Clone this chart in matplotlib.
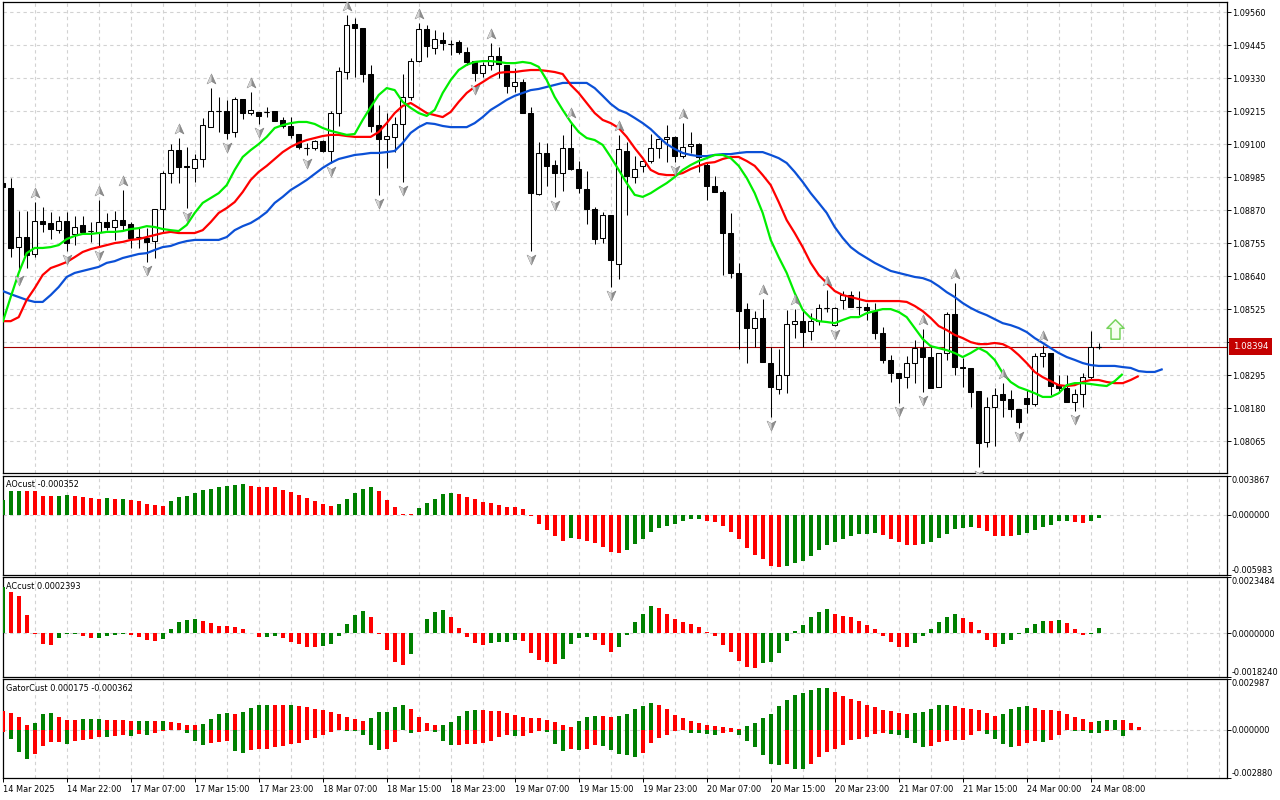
import matplotlib
matplotlib.use("Agg")
import matplotlib.pyplot as plt
import matplotlib.transforms as mtransforms
from matplotlib.path import Path
import numpy as np

plt.rcParams['font.family'] = ['DejaVu Sans']
FS = 5.9

# ---------------- data (EURUSD-like H1) ----------------
opens = [1.08964, 1.08947, 1.08741, 1.08776, 1.08717, 1.08832, 1.08825, 1.08800, 1.08832, 1.08787,
         1.08818, 1.08797, 1.08794, 1.08828, 1.08811, 1.08835, 1.08821, 1.08776, 1.08773, 1.08762,
         1.08874, 1.08999, 1.09079, 1.09024, 1.09017, 1.09048, 1.09159, 1.09215, 1.09215, 1.09142,
         1.09257, 1.09208, 1.09212, 1.09212, 1.09215, 1.09184, 1.09163, 1.09135, 1.09086, 1.09086,
         1.09111, 1.09076, 1.09208, 1.09351, 1.09518, 1.09504, 1.09344, 1.09166, 1.09118, 1.09125,
         1.09170, 1.09264, 1.09389, 1.09501, 1.09435, 1.09463, 1.09449, 1.09456, 1.09421, 1.09389,
         1.09348, 1.09376, 1.09407, 1.09376, 1.09302, 1.09316, 1.09208, 1.08926, 1.09069, 1.09027,
         1.08999, 1.09086, 1.09013, 1.08943, 1.08874, 1.08773, 1.08853, 1.08682, 1.09076, 1.08985,
         1.09024, 1.09041, 1.09086, 1.09118, 1.09125, 1.09058, 1.09093, 1.09100, 1.09027, 1.08954,
         1.08933, 1.08790, 1.08651, 1.08525, 1.08459, 1.08494, 1.08337, 1.08246, 1.08295, 1.08473,
         1.08483, 1.08449, 1.08483, 1.08529, 1.08470, 1.08557, 1.08574, 1.08532, 1.08532, 1.08518,
         1.08442, 1.08348, 1.08302, 1.08288, 1.08337, 1.08389, 1.08358, 1.08253, 1.08372, 1.08508,
         1.08323, 1.08320, 1.08239, 1.08062, 1.08184, 1.08229, 1.08212, 1.08177, 1.08215, 1.08194,
         1.08361, 1.08372, 1.08260, 1.08250, 1.08201, 1.08229, 1.08288, 1.08394]
highs = [1.08971, 1.08982, 1.08867, 1.08867, 1.08898, 1.08881, 1.08863, 1.08849, 1.08863, 1.08849,
         1.08849, 1.08828, 1.08905, 1.08860, 1.08867, 1.08940, 1.08828, 1.08811, 1.08807, 1.08870,
         1.09006, 1.09100, 1.09121, 1.09090, 1.09065, 1.09191, 1.09295, 1.09264, 1.09254, 1.09264,
         1.09257, 1.09281, 1.09212, 1.09229, 1.09215, 1.09194, 1.09194, 1.09135, 1.09104, 1.09114,
         1.09114, 1.09215, 1.09369, 1.09550, 1.09539, 1.09504, 1.09376, 1.09236, 1.09208, 1.09194,
         1.09344, 1.09400, 1.09522, 1.09515, 1.09498, 1.09491, 1.09463, 1.09463, 1.09438, 1.09389,
         1.09386, 1.09452, 1.09438, 1.09376, 1.09365, 1.09327, 1.09229, 1.09107, 1.09104, 1.09044,
         1.09132, 1.09177, 1.09041, 1.09006, 1.08881, 1.08863, 1.08853, 1.09132, 1.09107, 1.09058,
         1.09051, 1.09135, 1.09128, 1.09166, 1.09128, 1.09173, 1.09142, 1.09104, 1.09034, 1.08989,
         1.08940, 1.08860, 1.08686, 1.08546, 1.08518, 1.08560, 1.08393, 1.08386, 1.08522, 1.08525,
         1.08525, 1.08511, 1.08543, 1.08591, 1.08532, 1.08588, 1.08588, 1.08588, 1.08546, 1.08546,
         1.08463, 1.08365, 1.08302, 1.08361, 1.08417, 1.08456, 1.08393, 1.08372, 1.08515, 1.08616,
         1.08354, 1.08320, 1.08239, 1.08219, 1.08250, 1.08267, 1.08243, 1.08177, 1.08243, 1.08372,
         1.08400, 1.08372, 1.08295, 1.08295, 1.08246, 1.08302, 1.08449, 1.08407]
lows = [1.08947, 1.08706, 1.08654, 1.08668, 1.08706, 1.08794, 1.08769, 1.08790, 1.08727, 1.08748,
        1.08790, 1.08759, 1.08741, 1.08800, 1.08766, 1.08800, 1.08738, 1.08738, 1.08689, 1.08703,
        1.08790, 1.08964, 1.08964, 1.08877, 1.08968, 1.09020, 1.09159, 1.09142, 1.09118, 1.09125,
        1.09187, 1.09201, 1.09170, 1.09194, 1.09180, 1.09156, 1.09121, 1.09083, 1.09062, 1.09079,
        1.09072, 1.09034, 1.09163, 1.09327, 1.09334, 1.09316, 1.09142, 1.08923, 1.09017, 1.09072,
        1.08968, 1.09254, 1.09386, 1.09403, 1.09414, 1.09428, 1.09410, 1.09414, 1.09376, 1.09320,
        1.09334, 1.09358, 1.09330, 1.09278, 1.09281, 1.09208, 1.08727, 1.08923, 1.08954, 1.08916,
        1.08936, 1.09010, 1.08929, 1.08821, 1.08752, 1.08755, 1.08602, 1.08630, 1.08853, 1.08964,
        1.09003, 1.09034, 1.09051, 1.09037, 1.09037, 1.09051, 1.09069, 1.09003, 1.08905, 1.08933,
        1.08644, 1.08633, 1.08386, 1.08337, 1.08393, 1.08341, 1.08149, 1.08229, 1.08232, 1.08424,
        1.08393, 1.08417, 1.08470, 1.08515, 1.08466, 1.08525, 1.08532, 1.08504, 1.08487, 1.08421,
        1.08337, 1.08271, 1.08198, 1.08250, 1.08267, 1.08236, 1.08250, 1.08253, 1.08348, 1.08295,
        1.08253, 1.08184, 1.07975, 1.08044, 1.08048, 1.08149, 1.08149, 1.08111, 1.08163, 1.08187,
        1.08323, 1.08226, 1.08232, 1.08201, 1.08170, 1.08184, 1.08278, 1.08386]
closes = [1.08950, 1.08738, 1.08776, 1.08713, 1.08832, 1.08821, 1.08804, 1.08832, 1.08755, 1.08811,
          1.08794, 1.08796, 1.08828, 1.08811, 1.08835, 1.08818, 1.08773, 1.08775, 1.08759, 1.08874,
          1.08999, 1.09079, 1.09020, 1.09020, 1.09048, 1.09166, 1.09215, 1.09214, 1.09139, 1.09257,
          1.09208, 1.09219, 1.09198, 1.09211, 1.09180, 1.09163, 1.09132, 1.09090, 1.09085, 1.09111,
          1.09076, 1.09208, 1.09355, 1.09515, 1.09504, 1.09344, 1.09163, 1.09118, 1.09128, 1.09170,
          1.09264, 1.09389, 1.09501, 1.09442, 1.09466, 1.09452, 1.09448, 1.09421, 1.09386, 1.09348,
          1.09376, 1.09407, 1.09379, 1.09302, 1.09316, 1.09208, 1.08929, 1.09069, 1.09024, 1.08999,
          1.09086, 1.09013, 1.08947, 1.08874, 1.08769, 1.08853, 1.08696, 1.09083, 1.08989, 1.09013,
          1.09041, 1.09086, 1.09118, 1.09125, 1.09058, 1.09090, 1.09100, 1.09055, 1.08954, 1.08933,
          1.08790, 1.08651, 1.08518, 1.08459, 1.08494, 1.08341, 1.08253, 1.08295, 1.08473, 1.08483,
          1.08445, 1.08483, 1.08529, 1.08528, 1.08529, 1.08574, 1.08532, 1.08531, 1.08522, 1.08442,
          1.08348, 1.08302, 1.08285, 1.08337, 1.08389, 1.08358, 1.08250, 1.08372, 1.08508, 1.08323,
          1.08320, 1.08236, 1.08058, 1.08184, 1.08226, 1.08208, 1.08177, 1.08131, 1.08194, 1.08361,
          1.08372, 1.08257, 1.08250, 1.08201, 1.08229, 1.08288, 1.08394, 1.08394]

# Alligator lines (jaw shifted 8, teeth 5, lips 3 bars forward)
jaw = [1.08588, 1.08577, 1.08567, 1.08557, 1.08550, 1.08550, 1.08574, 1.08602, 1.08637, 1.08651,
       1.08658, 1.08665, 1.08672, 1.08686, 1.08692, 1.08703, 1.08710, 1.08717, 1.08720, 1.08731,
       1.08741, 1.08745, 1.08755, 1.08762, 1.08766, 1.08766, 1.08766, 1.08766, 1.08776, 1.08800,
       1.08814, 1.08825, 1.08842, 1.08863, 1.08895, 1.08916, 1.08940, 1.08957, 1.08975, 1.08996,
       1.09017, 1.09034, 1.09048, 1.09055, 1.09062, 1.09065, 1.09069, 1.09069, 1.09072, 1.09076,
       1.09104, 1.09139, 1.09159, 1.09173, 1.09170, 1.09163, 1.09159, 1.09159, 1.09159, 1.09173,
       1.09194, 1.09219, 1.09236, 1.09254, 1.09268, 1.09278, 1.09288, 1.09292, 1.09299, 1.09306,
       1.09313, 1.09313, 1.09313, 1.09313, 1.09295, 1.09268, 1.09240, 1.09219, 1.09208, 1.09191,
       1.09173, 1.09152, 1.09125, 1.09100, 1.09083, 1.09069, 1.09062, 1.09058, 1.09058, 1.09062,
       1.09065, 1.09065, 1.09069, 1.09072, 1.09072, 1.09072, 1.09062, 1.09051, 1.09034, 1.09003,
       1.08968, 1.08929, 1.08895, 1.08860, 1.08811, 1.08773, 1.08741, 1.08720, 1.08703, 1.08686,
       1.08672, 1.08658, 1.08651, 1.08644, 1.08637, 1.08633, 1.08623, 1.08605, 1.08584, 1.08567,
       1.08546, 1.08529, 1.08515, 1.08504, 1.08490, 1.08476, 1.08469, 1.08459, 1.08445, 1.08424,
       1.08407, 1.08389, 1.08372, 1.08358, 1.08348, 1.08337, 1.08330, 1.08327, 1.08327, 1.08327,
       1.08323, 1.08320, 1.08309, 1.08306, 1.08306, 1.08316]
teeth = [1.08483, 1.08483, 1.08497, 1.08557, 1.08598, 1.08644, 1.08668, 1.08678, 1.08689, 1.08706,
         1.08724, 1.08734, 1.08741, 1.08748, 1.08755, 1.08759, 1.08766, 1.08769, 1.08776, 1.08783,
         1.08790, 1.08794, 1.08790, 1.08790, 1.08790, 1.08800, 1.08828, 1.08860, 1.08877, 1.08898,
         1.08933, 1.08975, 1.09003, 1.09024, 1.09048, 1.09072, 1.09090, 1.09104, 1.09114, 1.09121,
         1.09128, 1.09132, 1.09132, 1.09128, 1.09125, 1.09125, 1.09125, 1.09142, 1.09173, 1.09208,
         1.09233, 1.09243, 1.09226, 1.09208, 1.09201, 1.09194, 1.09212, 1.09247, 1.09278, 1.09299,
         1.09316, 1.09334, 1.09348, 1.09351, 1.09351, 1.09355, 1.09358, 1.09358, 1.09355, 1.09351,
         1.09344, 1.09306, 1.09278, 1.09243, 1.09208, 1.09184, 1.09173, 1.09156, 1.09125, 1.09086,
         1.09051, 1.09010, 1.08996, 1.08992, 1.08992, 1.08999, 1.09013, 1.09024, 1.09034, 1.09037,
         1.09048, 1.09055, 1.09055, 1.09041, 1.09024, 1.08992, 1.08957, 1.08898, 1.08835, 1.08790,
         1.08741, 1.08686, 1.08644, 1.08616, 1.08588, 1.08574, 1.08567, 1.08560, 1.08553, 1.08553,
         1.08553, 1.08553, 1.08553, 1.08550, 1.08536, 1.08518, 1.08494, 1.08466, 1.08452, 1.08435,
         1.08424, 1.08410, 1.08403, 1.08403, 1.08407, 1.08403, 1.08389, 1.08365, 1.08337, 1.08306,
         1.08288, 1.08274, 1.08260, 1.08257, 1.08260, 1.08271, 1.08278, 1.08278, 1.08271, 1.08267,
         1.08267, 1.08278, 1.08292]
lips = [1.08480, 1.08567, 1.08651, 1.08720, 1.08738, 1.08738, 1.08741, 1.08748, 1.08769, 1.08780,
        1.08787, 1.08787, 1.08790, 1.08794, 1.08794, 1.08797, 1.08804, 1.08807, 1.08814, 1.08811,
        1.08804, 1.08800, 1.08797, 1.08818, 1.08860, 1.08895, 1.08912, 1.08929, 1.08957, 1.09010,
        1.09055, 1.09079, 1.09100, 1.09125, 1.09156, 1.09166, 1.09173, 1.09177, 1.09177, 1.09170,
        1.09156, 1.09146, 1.09139, 1.09132, 1.09135, 1.09184, 1.09229, 1.09271, 1.09295, 1.09288,
        1.09247, 1.09226, 1.09208, 1.09198, 1.09219, 1.09278, 1.09323, 1.09358, 1.09376, 1.09386,
        1.09389, 1.09389, 1.09386, 1.09382, 1.09382, 1.09386, 1.09382, 1.09369, 1.09323, 1.09264,
        1.09219, 1.09177, 1.09142, 1.09121, 1.09114, 1.09097, 1.09055, 1.09010, 1.08964, 1.08923,
        1.08916, 1.08929, 1.08947, 1.08964, 1.08985, 1.09010, 1.09027, 1.09041, 1.09051, 1.09062,
        1.09062, 1.09051, 1.09024, 1.08982, 1.08929, 1.08860, 1.08766, 1.08706, 1.08651, 1.08581,
        1.08522, 1.08494, 1.08483, 1.08480, 1.08476, 1.08487, 1.08497, 1.08497, 1.08511, 1.08518,
        1.08525, 1.08525, 1.08515, 1.08497, 1.08459, 1.08421, 1.08396, 1.08389, 1.08382, 1.08372,
        1.08358, 1.08372, 1.08389, 1.08375, 1.08348, 1.08302, 1.08271, 1.08253, 1.08243, 1.08232,
        1.08219, 1.08219, 1.08232, 1.08260, 1.08267, 1.08267, 1.08264, 1.08260, 1.08257, 1.08274,
        1.08299]

# Fractal bars
up_fractals = [4, 12, 15, 22, 26, 31, 43, 52, 61, 71, 77, 85, 95, 99, 103, 115, 119, 125, 130]
down_fractals = [2, 8, 12, 18, 23, 28, 32, 38, 41, 47, 50, 59, 66, 69, 76, 84, 96, 104, 112, 115,
                 122, 127, 134]
signal_bar = 139
signal_price = 1.08454

# Awesome oscillator
ao = [0.001495, 0.002326, 0.002393, 0.002393, 0.002326, 0.001894, 0.001828, 0.001894, 0.001994, 0.001894,
      0.001794, 0.001662, 0.001595, 0.001600, 0.001590, 0.001597, 0.001495, 0.001329, 0.001097, 0.000997,
      0.000897, 0.001329, 0.001728, 0.001894, 0.002160, 0.002492, 0.002592, 0.002725, 0.002891, 0.002991,
      0.003000, 0.002891, 0.002725, 0.002720, 0.002715, 0.002492, 0.002226, 0.001927, 0.001662, 0.001329,
      0.001097, 0.000897, 0.001097, 0.001595, 0.002127, 0.002592, 0.002725, 0.002326, 0.001495, 0.000798,
      0.000100, 0.000090, 0.000698, 0.001196, 0.001595, 0.002093, 0.002193, 0.002093, 0.001794, 0.001595,
      0.001296, 0.001196, 0.000997, 0.000798, 0.000790, 0.000598, -0.000100, -0.000897, -0.001495, -0.002093,
      -0.002592, -0.002293, -0.002393, -0.002592, -0.002791, -0.003190, -0.003689, -0.003788, -0.003489, -0.002891,
      -0.002393, -0.001695, -0.001296, -0.001097, -0.000897, -0.000665, -0.000465, -0.000399, -0.000598, -0.000698,
      -0.001097, -0.001695, -0.002459, -0.003290, -0.003988, -0.004386, -0.005084, -0.005184, -0.005084, -0.004818,
      -0.004586, -0.004087, -0.003489, -0.002991, -0.002758, -0.002393, -0.002127, -0.001894, -0.001890, -0.001794,
      -0.002027, -0.002393, -0.002692, -0.002991, -0.002995, -0.002891, -0.002692, -0.002293, -0.001894, -0.001462,
      -0.001296, -0.001196, -0.001296, -0.001595, -0.002093, -0.002100, -0.002105, -0.001994, -0.001794, -0.001495,
      -0.001196, -0.000997, -0.000665, -0.000598, -0.000698, -0.000798, -0.000665, -0.000352]

# Accelerator oscillator
ac = [0.001959, 0.001721, 0.001553, 0.000755, -0.000014, -0.000434, -0.000490, -0.000196, -0.000042, -0.000028,
      -0.000112, -0.000200, -0.000190, -0.000112, -0.000056, -0.000028, -0.000070, -0.000140, -0.000266, -0.000322,
      -0.000238, 0.000168, 0.000476, 0.000560, 0.000588, 0.000518, 0.000420, 0.000294, 0.000290, 0.000252,
      0.000168, -0.000010, -0.000154, -0.000150, -0.000112, -0.000196, -0.000364, -0.000448, -0.000574, -0.000578,
      -0.000532, -0.000448, -0.000112, 0.000378, 0.000755, 0.000923, 0.000672, -0.000028, -0.000700, -0.001203,
      -0.001329, -0.000867, 0.000014, 0.000588, 0.000881, 0.000965, 0.000672, 0.000210, -0.000154, -0.000406,
      -0.000490, -0.000406, -0.000364, -0.000360, -0.000280, -0.000322, -0.000825, -0.001119, -0.001203, -0.001287,
      -0.001077, -0.000448, -0.000196, -0.000154, -0.000280, -0.000490, -0.000783, -0.000574, -0.000070, 0.000462,
      0.000797, 0.001133, 0.001049, 0.000797, 0.000588, 0.000462, 0.000378, 0.000252, 0.000042, -0.000112,
      -0.000490, -0.000783, -0.001161, -0.001413, -0.001455, -0.001245, -0.001203, -0.000825, -0.000322, 0.000084,
      0.000336, 0.000672, 0.000881, 0.001007, 0.000797, 0.000713, 0.000672, 0.000504, 0.000336, 0.000168,
      -0.000112, -0.000364, -0.000574, -0.000578, -0.000406, -0.000112, 0.000168, 0.000462, 0.000672, 0.000797,
      0.000630, 0.000462, 0.000126, -0.000280, -0.000574, -0.000448, -0.000280, -0.000028, 0.000210, 0.000378,
      0.000504, 0.000500, 0.000546, 0.000420, 0.000168, -0.000070, -0.000014, 0.0002393]

# Gator oscillator (upper = |jaw-teeth|, lower = -|teeth-lips|)
gator_up = [0.001087, 0.001008, 0.000770, 0.000257, 0.000415, 0.000948, 0.001008, 0.000770, 0.000593, 0.000588,
            0.000652, 0.000656, 0.000660, 0.000593, 0.000590, 0.000587, 0.000533, 0.000536, 0.000540, 0.000535,
            0.000538, 0.000474, 0.000415, 0.000296, 0.000290, 0.000356, 0.000652, 0.000948, 0.001008, 0.000948,
            0.001067, 0.001304, 0.001482, 0.001486, 0.001484, 0.001482, 0.001486, 0.001422, 0.001363, 0.001245,
            0.001185, 0.001067, 0.000948, 0.000770, 0.000652, 0.000533, 0.000711, 0.001067, 0.001070, 0.001363,
            0.001482, 0.001245, 0.000770, 0.000415, 0.000296, 0.000300, 0.000474, 0.000830, 0.001126, 0.001185,
            0.001180, 0.001126, 0.001120, 0.001008, 0.000889, 0.000770, 0.000711, 0.000705, 0.000593, 0.000474,
            0.000296, 0.000178, 0.000533, 0.000770, 0.000830, 0.000825, 0.000770, 0.000830, 0.000948, 0.001245,
            0.001422, 0.001600, 0.001482, 0.001245, 0.000889, 0.000711, 0.000533, 0.000415, 0.000296, 0.000237,
            0.000178, 0.000119, 0.000020, 0.000237, 0.000415, 0.000711, 0.000948, 0.001422, 0.001778, 0.002074,
            0.002193, 0.002371, 0.002489, 0.002500, 0.002252, 0.002015, 0.001837, 0.001719, 0.001482, 0.001363,
            0.001185, 0.001126, 0.001008, 0.000948, 0.001008, 0.001067, 0.001245, 0.001482, 0.001486, 0.001422,
            0.001304, 0.001245, 0.001185, 0.001008, 0.000830, 0.000948, 0.001245, 0.001363, 0.001422, 0.001304,
            0.001185, 0.001180, 0.001126, 0.000948, 0.000770, 0.000652, 0.000474, 0.000533, 0.000550, 0.000593,
            0.000590, 0.000415, 0.000175]
gator_dn = [-0.000138, -0.000533, -0.001343, -0.001719, -0.001422, -0.000948, -0.000751, -0.000745, -0.000830, -0.000691,
            -0.000632, -0.000573, -0.000454, -0.000460, -0.000395, -0.000336, -0.000395, -0.000277, -0.000336, -0.000217,
            -0.000099, -0.000040, -0.000035, -0.000217, -0.000691, -0.000928, -0.000810, -0.000751, -0.000691, -0.001284,
            -0.001403, -0.001225, -0.001166, -0.001160, -0.001047, -0.000988, -0.000869, -0.000810, -0.000632, -0.000514,
            -0.000336, -0.000158, -0.000040, -0.000050, -0.000060, -0.000336, -0.000928, -0.001225, -0.001166, -0.000751,
            -0.000040, -0.000217, -0.000158, -0.000099, -0.000158, -0.000691, -0.000928, -0.000880, -0.000840, -0.000830,
            -0.000770, -0.000652, -0.000415, -0.000296, -0.000356, -0.000350, -0.000178, -0.000059, -0.000119, -0.000830,
            -0.001245, -0.001126, -0.001185, -0.001126, -0.000889, -0.000948, -0.001185, -0.001422, -0.001482, -0.001600,
            -0.001363, -0.000770, -0.000474, -0.000296, -0.000059, -0.000020, -0.000178, -0.000180, -0.000237, -0.000296,
            -0.000178, -0.000119, -0.000296, -0.000652, -0.001008, -0.001482, -0.002015, -0.002074, -0.002015, -0.002311,
            -0.002351, -0.002055, -0.001640, -0.001343, -0.001166, -0.000928, -0.000632, -0.000573, -0.000454, -0.000277,
            -0.000217, -0.000277, -0.000336, -0.000514, -0.000810, -0.001047, -0.000988, -0.000751, -0.000691, -0.000632,
            -0.000628, -0.000336, -0.000099, -0.000277, -0.000573, -0.000869, -0.001047, -0.000988, -0.000810, -0.000691,
            -0.000751, -0.000632, -0.000336, -0.000040, -0.000050, -0.000099, -0.000217, -0.000220, -0.000060, -0.000030,
            -0.000362]

time_labels = ["14 Mar 2025", "14 Mar 22:00", "17 Mar 07:00", "17 Mar 15:00", "17 Mar 23:00",
               "18 Mar 07:00", "18 Mar 15:00", "18 Mar 23:00", "19 Mar 07:00", "19 Mar 15:00",
               "19 Mar 23:00", "20 Mar 07:00", "20 Mar 15:00", "20 Mar 23:00", "21 Mar 07:00",
               "21 Mar 15:00", "24 Mar 00:00", "24 Mar 08:00"]
label_step = 8
price_ticks = [1.08065, 1.08180, 1.08295, 1.08410, 1.08525, 1.08640, 1.08755, 1.08870,
               1.08985, 1.09100, 1.09215, 1.09330, 1.09445, 1.09560]
price_range = (1.07955, 1.09596)
ao_range = (-0.005983, 0.003867)
ac_range = (-0.0018240, 0.0023484)
gator_range = (-0.002880, 0.002987)
last_price = closes[-1]

# ---------------- styling ----------------
GREEN = '#008000'
RED = '#ff0000'
JAW_C = '#0b50d6'
TEETH_C = '#ff0000'
LIPS_C = '#00ee00'
GRID = dict(color='#d2d2d2', lw=0.8, ls=(0, (3, 3)), zorder=0)
XMAX = 153

fig = plt.figure(figsize=(12.8, 8), dpi=100)
fig.patch.set_facecolor('white')


def rect(x0, y0, x1, y1):
    return [x0 / 1280, 1 - y1 / 800, (x1 - x0) / 1280, (y1 - y0) / 800]


axm = fig.add_axes(rect(2.7, 1.7, 1226.7, 472.7))
axao = fig.add_axes(rect(2.7, 475.7, 1226.7, 574.7))
axac = fig.add_axes(rect(2.7, 577.3, 1226.7, 676.7))
axg = fig.add_axes(rect(2.7, 679.3, 1226.7, 778.3))
all_axes = [axm, axao, axac, axg]

for ax in all_axes:
    ax.set_facecolor('white')
    ax.set_xlim(0, XMAX)
    for s in ax.spines.values():
        s.set_linewidth(0.9)
        s.set_color('black')
    for g in range(4, XMAX, 4):
        ax.axvline(g, **GRID)
    ax.yaxis.tick_right()
    ax.tick_params(axis='y', direction='out', length=2.6, width=0.7, pad=1.1,
                   labelsize=FS, colors='black')
    ax.tick_params(axis='x', bottom=False, labelbottom=False, top=False)

# ---------------- main chart ----------------
o = np.array(opens); h = np.array(highs); l = np.array(lows); c = np.array(closes)
n = len(o)
x = np.arange(n)
bull = c > o
axm.set_ylim(*price_range)
for p in price_ticks:
    axm.axhline(p, **GRID)
axm.set_yticks(price_ticks)
axm.set_yticklabels([f"{p:.5f}" for p in price_ticks])

axm.axhline(last_price, color='#a30000', lw=0.8, zorder=2)

axm.vlines(x, l, h, color='black', lw=0.75, zorder=3)
body_lo = np.minimum(o, c)
body_h = np.abs(c - o)
axm.bar(x, body_h, bottom=body_lo, width=0.6,
        color=['white' if b else 'black' for b in bull],
        edgecolor='black', linewidth=0.75, zorder=4)
doji = body_h < 0.000015
axm.hlines(c[doji], x[doji] - 0.32, x[doji] + 0.32, color='black', lw=0.8, zorder=4)

axm.plot(np.arange(len(jaw)), jaw, color=JAW_C, lw=1.6, zorder=5, solid_capstyle='butt')
axm.plot(np.arange(len(teeth)), teeth, color=TEETH_C, lw=1.6, zorder=6, solid_capstyle='butt')
axm.plot(np.arange(len(lips)), lips, color=LIPS_C, lw=1.6, zorder=7, solid_capstyle='butt')

# fractal arrow markers
full_up = Path([(0, 1), (0.8, -0.8), (0, -0.35), (-0.8, -0.8), (0, 1)],
               [Path.MOVETO, Path.LINETO, Path.LINETO, Path.LINETO, Path.CLOSEPOLY])
half_up = Path([(0, 1), (0, -0.35), (-0.8, -0.8), (0, 1)],
               [Path.MOVETO, Path.LINETO, Path.LINETO, Path.CLOSEPOLY])
full_dn = Path([(vx, -vy) for vx, vy in full_up.vertices], full_up.codes)
half_dn = Path([(vx, -vy) for vx, vy in half_up.vertices], half_up.codes)

tr_up = mtransforms.offset_copy(axm.transData, fig=fig, y=6.5, units='points')
tr_dn = mtransforms.offset_copy(axm.transData, fig=fig, y=-5.6, units='points')
uf = np.array(up_fractals); df = np.array(down_fractals)
axm.plot(uf, h[uf], ls='none', marker=full_up, ms=8, mfc='#8e8e8e', mec='#7a7a7a', mew=0.4,
         transform=tr_up, zorder=8)
axm.plot(uf, h[uf], ls='none', marker=half_up, ms=8, mfc='#d4d4d4', mec='none',
         transform=tr_up, zorder=9)
axm.plot(df, l[df], ls='none', marker=full_dn, ms=8, mfc='#8e8e8e', mec='#7a7a7a', mew=0.4,
         transform=tr_dn, zorder=8)
axm.plot(df, l[df], ls='none', marker=half_dn, ms=8, mfc='#d4d4d4', mec='none',
         transform=tr_dn, zorder=9)

# buy-signal arrow
sig = Path([(0, 1), (0.88, 0.12), (0.46, 0.12), (0.46, -1), (-0.46, -1), (-0.46, 0.12),
            (-0.88, 0.12), (0, 1)],
           [Path.MOVETO] + [Path.LINETO] * 6 + [Path.CLOSEPOLY])
axm.plot([signal_bar], [signal_price], ls='none', marker=sig, ms=14, mfc='#f6fff0',
         mec='#78d45e', mew=1.1, zorder=9)

axm.text(1.0052, last_price, f"{last_price:.5f}", transform=axm.get_yaxis_transform(),
         ha='left', va='center', color='white', fontsize=FS + 0.3, zorder=20, clip_on=False,
         bbox=dict(boxstyle='square,pad=0.45', fc='#c40000', ec='none'))


def trend_colors(vals, first, use_abs=False):
    cols = [first]
    for i in range(1, len(vals)):
        a, b = vals[i], vals[i - 1]
        if use_abs:
            a, b = abs(a), abs(b)
        cols.append(GREEN if a > b else RED)
    return cols


def setup_sub(ax, rng, fmt, label, label_y):
    lo, hi = rng
    ax.set_ylim(lo, hi)
    ax.axhline(0, **GRID)
    ax.set_yticks([lo, 0, hi])
    ax.set_yticklabels([fmt.format(lo), fmt.format(0.0), fmt.format(hi)])
    lbls = ax.get_yticklabels()
    lbls[0].set_va('bottom')
    lbls[2].set_va('top')
    ax.text(0.0027, label_y, label, transform=ax.transAxes, ha='left', va='center',
            fontsize=FS, color='black', zorder=20)


# AO
axao.bar(np.arange(len(ao)), ao, width=0.5, color=trend_colors(ao, GREEN), zorder=3)
setup_sub(axao, ao_range, "{:.6f}", f"AOcust {ao[-1]:.6f}", 1 - 9 / 99)

# AC
axac.bar(np.arange(len(ac)), ac, width=0.5, color=trend_colors(ac, GREEN), zorder=3)
setup_sub(axac, ac_range, "{:.7f}", f"ACcust {ac[-1]:.7f}", 1 - 9.4 / 99.4)

# Gator
axg.bar(np.arange(len(gator_up)), gator_up, width=0.5,
        color=trend_colors(gator_up, RED), zorder=3)
axg.bar(np.arange(len(gator_dn)), gator_dn, width=0.5,
        color=trend_colors(gator_dn, RED, use_abs=True), zorder=3)
setup_sub(axg, gator_range, "{:.6f}",
          f"GatorCust {gator_up[-1]:.6f} {gator_dn[-1]:.6f}", 1 - 9 / 99)

# time axis
tick_pos = list(range(0, label_step * len(time_labels), label_step))
axg.set_xticks(tick_pos)
axg.set_xticklabels(time_labels)
axg.tick_params(axis='x', bottom=True, labelbottom=True, direction='out', length=2.6,
                width=0.7, pad=2.2, labelsize=FS, colors='black')
for t in axg.get_xticklabels():
    t.set_ha('left')

fig.savefig('out.png', dpi=100, facecolor='white')
